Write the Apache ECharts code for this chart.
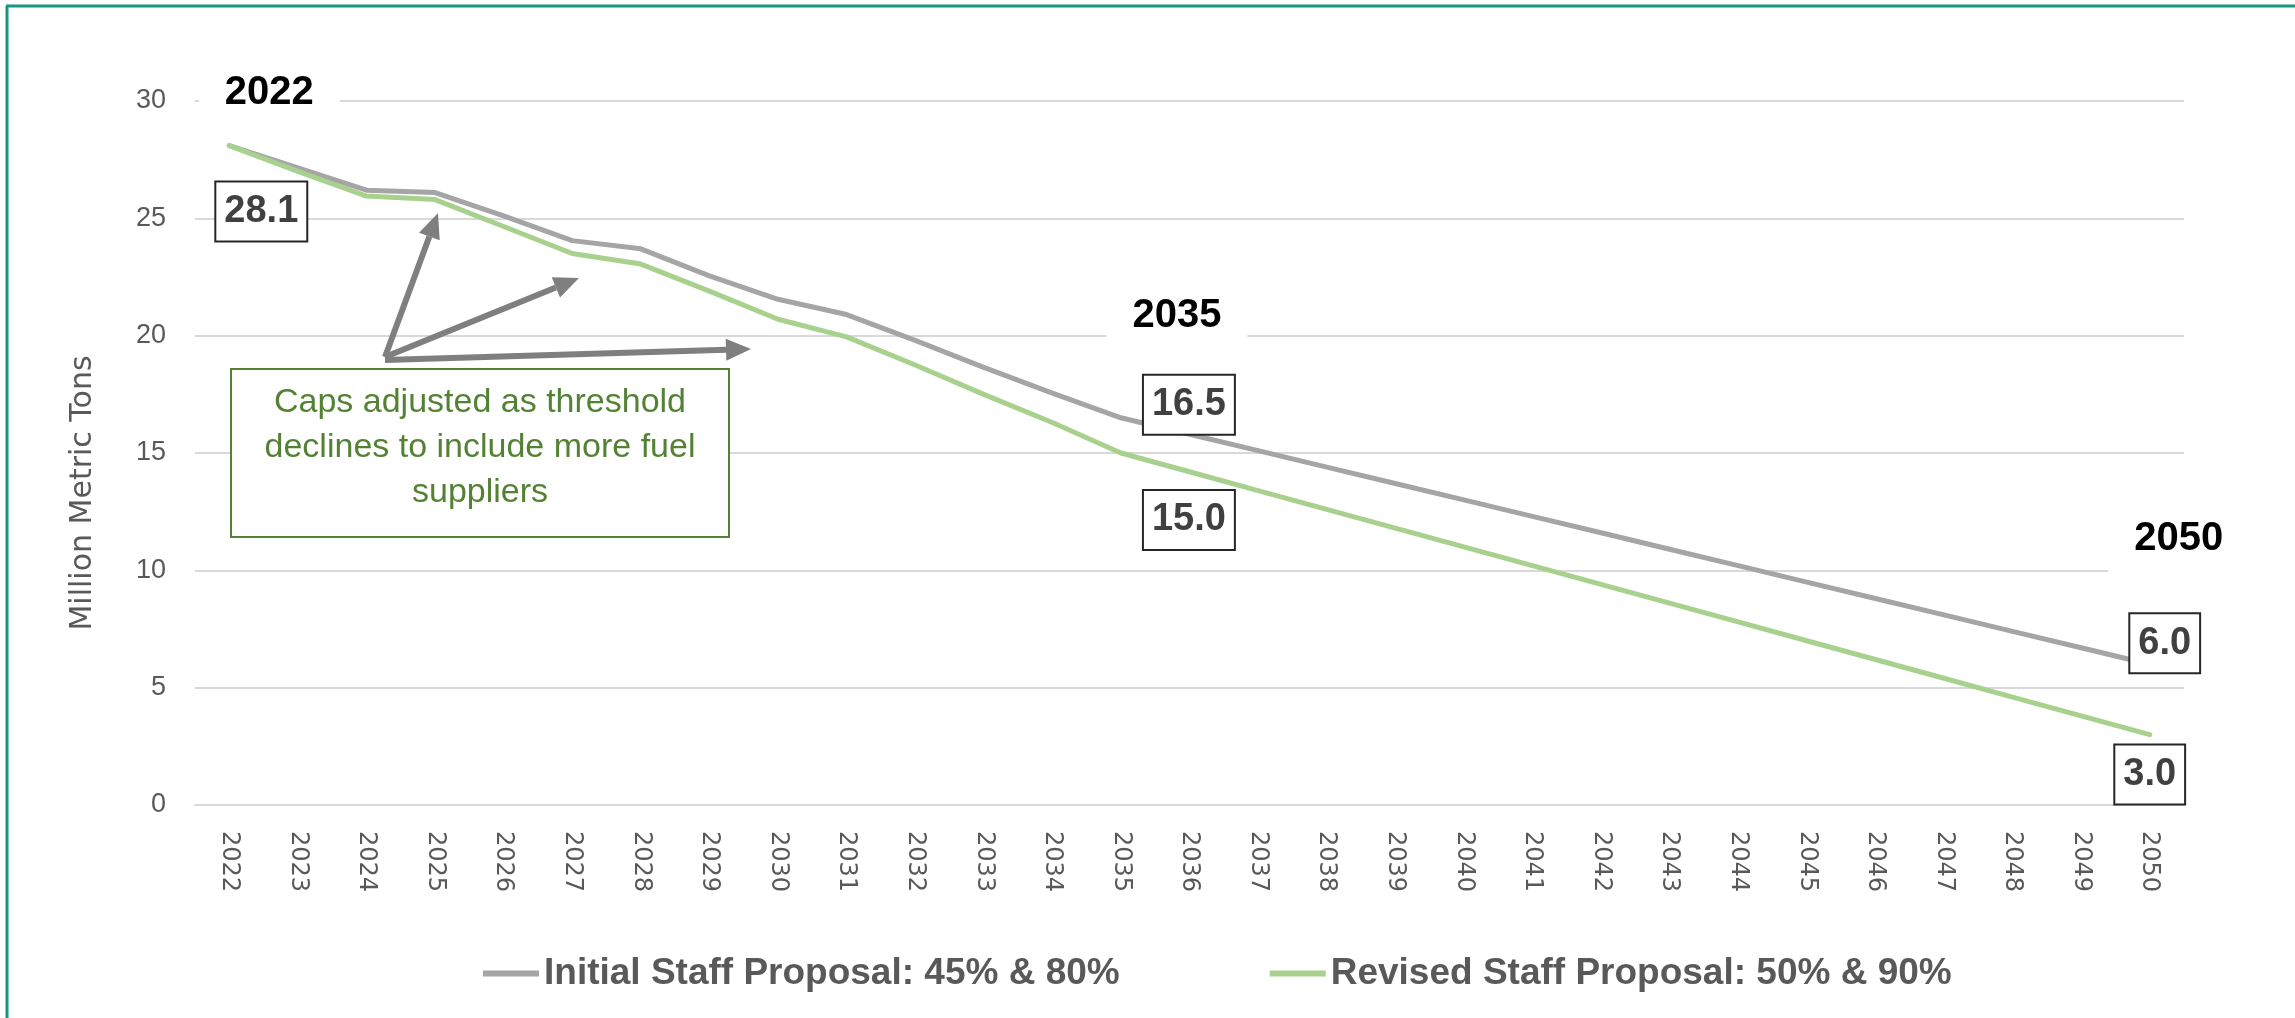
<!DOCTYPE html>
<html>
<head>
<meta charset="utf-8">
<title>LCFS cap trajectories</title>
<script src="https://cdn.jsdelivr.net/npm/echarts@6/dist/echarts.min.js"></script>
<style>
  html, body { margin: 0; padding: 0; background: #ffffff; }
  #chart { width: 2295px; height: 1018px; }
</style>
</head>
<body>
<div id="chart"></div>
<script>
// Compliance years on the category axis
const YEARS = ['2022','2023','2024','2025','2026','2027','2028','2029','2030','2031',
  '2032','2033','2034','2035','2036','2037','2038','2039','2040','2041','2042','2043',
  '2044','2045','2046','2047','2048','2049','2050'];

// Caps in million metric tons
const INITIAL = [28.1, 27.15, 26.2, 26.1, 25.1, 24.05, 23.7, 22.55, 21.55, 20.9,
  19.8, 18.65, 17.55, 16.5, 15.8, 15.1, 14.4, 13.7, 13.0, 12.3, 11.6, 10.9,
  10.2, 9.5, 8.8, 8.1, 7.4, 6.7, 6.0];
const REVISED = [28.1, 27.0, 25.95, 25.8, 24.65, 23.5, 23.05, 21.9, 20.7, 19.95,
  18.75, 17.5, 16.3, 15.0, 14.2, 13.4, 12.6, 11.8, 11.0, 10.2, 9.4, 8.6,
  7.8, 7.0, 6.2, 5.4, 4.6, 3.8, 3.0];

const SERIES_NAMES = ['Initial Staff Proposal: 45% & 80%', 'Revised Staff Proposal: 50% & 90%'];
const Y_TICKS = { min: 0, max: 30, step: 5 };
const AXIS_TITLE = 'Million Metric Tons';
const NOTE_LINES = ['Caps adjusted as threshold', 'declines to include more fuel', 'suppliers'];

// Which points carry a boxed value label, and which carry a year heading
const INITIAL_VALUE_LABELS = [13, 28];
const REVISED_VALUE_LABELS = [0, 13, 28];
const YEAR_HEADINGS = [0, 13, 28];

// ---- styling / layout ----
const GRAY = '#A5A5A5';
const GREEN = '#A9D18E';
const NOTE_GREEN = '#548235';
const TEXT_DARK = '#404040';
const AXIS_TEXT = '#595959';
const GRID_LINE = '#D9D9D9';
const FONT = "'Liberation Sans', Arial, sans-serif";

const valueOffsets = {
  initial: { 13: [68, -13], 28: [15, -21] },
  revised: { 0: [32, 66], 13: [68, 67], 28: [0, 40] }
};
const headingOffsets = { 0: [40, -53], 13: [56, -102], 28: [29, -125] };

function valueBox(offset) {
  return {
    show: true,
    position: 'inside',
    offset: offset,
    formatter: p => Number(p.value).toFixed(1),
    fontFamily: FONT,
    fontWeight: 'bold',
    fontSize: 38,
    lineHeight: 44,
    color: TEXT_DARK,
    backgroundColor: '#ffffff',
    borderColor: '#262626',
    borderWidth: 2,
    padding: [8, 8, 6, 8]
  };
}

function valuePoints(values, indices, offsets) {
  return indices.map(i => ({
    coord: [i, values[i]],
    value: values[i],
    label: valueBox(offsets[i])
  }));
}

const headingPoints = YEAR_HEADINGS.map(i => ({
  coord: [i, INITIAL[i]],
  value: YEARS[i],
  label: {
    show: true,
    position: 'inside',
    offset: headingOffsets[i],
    formatter: YEARS[i],
    fontFamily: FONT,
    fontWeight: 'bold',
    fontSize: 40,
    lineHeight: 46,
    color: '#000000',
    backgroundColor: '#ffffff',
    padding: [10, 26, 14, 26]
  }
}));

const chart = echarts.init(document.getElementById('chart'), null, { renderer: 'canvas' });

// Arrow from the note box toward the stepped section of the curves
function arrow(x1, y1, x2, y2) {
  const dx = x2 - x1, dy = y2 - y1;
  const len = Math.sqrt(dx * dx + dy * dy);
  const ux = dx / len, uy = dy / len;
  const headLen = 25, headHalf = 11;
  const bx = x2 - ux * headLen, by = y2 - uy * headLen;
  const px = -uy, py = ux;
  return [
    {
      type: 'line',
      shape: { x1: x1, y1: y1, x2: bx, y2: by },
      style: { stroke: '#7F7F7F', lineWidth: 6 },
      z: 10
    },
    {
      type: 'polygon',
      shape: { points: [[x2, y2], [bx + px * headHalf, by + py * headHalf], [bx - px * headHalf, by - py * headHalf]] },
      style: { fill: '#7F7F7F' },
      z: 10
    }
  ];
}

const graphics = [
  // frame
  { type: 'line', shape: { x1: 6, y1: 6, x2: 2295, y2: 6 }, style: { stroke: '#16967E', lineWidth: 3 }, z: 20 },
  { type: 'line', shape: { x1: 7, y1: 6, x2: 7, y2: 1018 }, style: { stroke: '#16967E', lineWidth: 3 }, z: 20 },
  // vertical axis title
  {
    type: 'text',
    x: 83, y: 493,
    rotation: Math.PI / 2,
    style: {
      text: AXIS_TITLE,
      fontFamily: "'DejaVu Sans', sans-serif",
      fontSize: 30,
      fill: AXIS_TEXT,
      align: 'center',
      verticalAlign: 'middle'
    }
  },
  // note box
  {
    type: 'rect',
    shape: { x: 231, y: 369, width: 498, height: 168 },
    style: { fill: '#ffffff', stroke: NOTE_GREEN, lineWidth: 2 },
    z: 10
  },
  {
    type: 'text',
    x: 480, y: 448,
    style: {
      text: NOTE_LINES.join('\n'),
      fontFamily: FONT,
      fontSize: 34,
      lineHeight: 45,
      fill: NOTE_GREEN,
      align: 'center',
      verticalAlign: 'middle'
    },
    z: 11
  }
].concat(arrow(385, 357, 438, 213), arrow(385, 357, 579, 278), arrow(385, 360, 751, 349));

chart.setOption({
  animation: false,
  backgroundColor: '#ffffff',
  grid: { left: 195, right: 111, top: 101, bottom: 213 },
  legend: {
    data: SERIES_NAMES,
    left: 478,
    top: 950,
    icon: 'rect',
    itemWidth: 56,
    itemHeight: 6,
    itemGap: 150,
    textStyle: { fontFamily: FONT, fontWeight: 'bold', fontSize: 37, color: AXIS_TEXT }
  },
  xAxis: {
    type: 'category',
    data: YEARS,
    boundaryGap: true,
    axisLine: { show: true, lineStyle: { color: GRID_LINE, width: 2 } },
    axisTick: { show: false },
    axisLabel: {
      interval: 0,
      rotate: -90,
      margin: 26,
      fontFamily: "'DejaVu Sans', sans-serif",
      fontSize: 24,
      color: AXIS_TEXT
    },
    splitLine: { show: false }
  },
  yAxis: {
    type: 'value',
    min: Y_TICKS.min,
    max: Y_TICKS.max,
    interval: Y_TICKS.step,
    axisLine: { show: false },
    axisTick: { show: false },
    axisLabel: { margin: 29, fontFamily: FONT, fontSize: 27, color: AXIS_TEXT },
    splitLine: { lineStyle: { color: GRID_LINE, width: 2 } }
  },
  series: [
    {
      name: SERIES_NAMES[0],
      type: 'line',
      data: INITIAL,
      showSymbol: false,
      symbol: 'none',
      lineStyle: { color: GRAY, width: 5, cap: 'round', join: 'round' },
      itemStyle: { color: GRAY },
      z: 3,
      markPoint: {
        symbol: 'circle',
        symbolSize: 0,
        data: valuePoints(INITIAL, INITIAL_VALUE_LABELS, valueOffsets.initial).concat(headingPoints),
        z: 6
      }
    },
    {
      name: SERIES_NAMES[1],
      type: 'line',
      data: REVISED,
      showSymbol: false,
      symbol: 'none',
      lineStyle: { color: GREEN, width: 5, cap: 'round', join: 'round' },
      itemStyle: { color: GREEN },
      z: 4,
      markPoint: {
        symbol: 'circle',
        symbolSize: 0,
        data: valuePoints(REVISED, REVISED_VALUE_LABELS, valueOffsets.revised),
        z: 6
      }
    }
  ],
  graphic: graphics
});
</script>
</body>
</html>
